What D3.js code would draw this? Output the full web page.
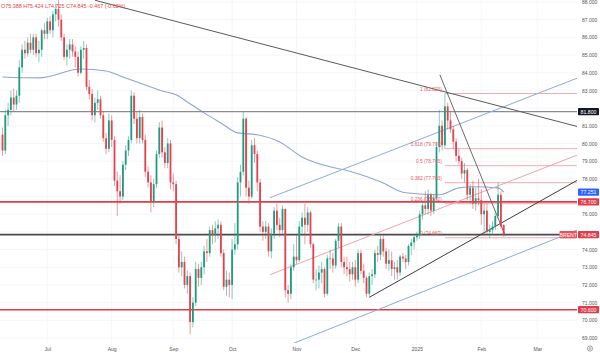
<!DOCTYPE html>
<html><head><meta charset="utf-8">
<script src="https://cdn.jsdelivr.net/npm/d3@7"></script>
<style>html,body{margin:0;padding:0;background:#fff;overflow:hidden}svg{display:block}text{font-family:"Liberation Sans",Arial,sans-serif}</style>
</head><body><svg id="c" width="600" height="353"></svg>
<script>
// ---- data ----
const monthLabels = ["Jul","Aug","Sep","Oct","Nov","Dec","2025","Feb","Mar"];
const monthIndex  = [16,39,61,82,105,126,148,171,191];
const priceTicks  = [69,70,71,72,73,74,75,76,77,78,79,80,81,82,83,84,85,86,87,88];

const openP = [80.5,79.6,81.6,81.9,82.6,82.2,82.7,84.3,85.3,85.1,85.7,85.3,86.0,85.1,85.3,86.4,86.2,86.9,86.4,87.3,
87.6,87.0,86.0,84.9,85.3,85.6,85.2,84.9,84.0,85.3,85.4,83.2,82.8,81.6,82.3,82.5,81.6,80.3,79.7,81.3,
80.2,77.9,77.3,77.0,78.8,79.6,80.2,82.7,81.4,80.3,81.5,80.2,78.4,77.8,76.7,77.7,79.4,80.9,79.5,78.9,
80.0,77.8,77.7,74.6,73.0,73.3,72.0,72.5,69.9,71.0,72.9,72.4,73.0,73.9,73.8,75.1,74.8,75.2,75.4,73.8,
71.9,72.3,72.0,74.0,74.3,77.8,78.4,81.4,77.5,77.0,79.9,79.4,77.8,75.3,75.0,75.3,73.9,74.9,76.2,75.4,
75.1,76.3,71.7,71.5,73.0,73.6,73.4,75.3,75.8,75.4,76.1,74.3,72.3,72.3,72.7,72.9,71.5,73.5,73.5,73.1,
74.5,75.3,73.3,73.0,72.9,72.6,73.0,72.3,73.8,72.8,72.4,71.5,72.5,72.6,73.8,73.7,74.6,73.9,73.2,73.4,
72.9,73.0,72.7,73.6,73.5,73.3,74.2,74.4,74.7,74.8,76.0,76.5,76.3,77.1,76.2,76.9,79.8,81.0,79.9,82.1,
81.3,80.8,80.1,79.3,79.0,78.3,78.5,77.1,77.5,76.6,76.9,76.8,76.0,76.2,75.0,75.1,75.3,75.9,77.1,75.388];
const highP = [80.9,81.9,82.3,83.0,83.1,83.0,84.7,85.6,85.8,86.0,86.2,86.2,86.2,85.8,86.5,86.8,87.1,87.2,87.5,87.9,
88.1,87.3,86.2,85.6,85.9,85.9,85.5,85.2,85.5,85.8,85.6,83.6,83.1,82.6,83.0,82.7,81.8,80.6,81.7,81.6,
80.4,78.4,78.2,79.0,79.9,80.4,83.0,82.9,81.8,81.9,81.7,80.5,78.7,78.2,78.0,79.6,81.2,81.3,79.8,80.3,
80.2,78.3,77.9,74.9,73.9,73.6,72.8,72.7,71.3,73.3,73.2,73.3,74.2,74.6,75.3,75.4,75.6,75.7,75.6,74.0,
72.8,72.7,74.6,75.5,78.1,78.8,81.8,81.5,77.9,80.2,80.3,79.6,78.0,75.6,75.6,75.5,75.2,76.4,76.6,75.8,
76.5,76.3,72.0,73.2,74.3,74.8,75.6,76.1,76.6,76.4,76.2,74.4,72.9,73.1,73.3,73.0,73.7,74.0,73.8,74.6,
75.5,75.5,73.6,73.6,73.3,73.3,73.4,74.0,74.0,73.2,72.5,72.7,72.9,74.0,74.2,74.8,74.8,74.1,74.0,73.9,
73.3,73.4,73.7,73.8,73.7,74.3,74.6,74.9,75.0,76.2,76.7,77.3,77.4,77.2,77.1,80.1,81.9,81.3,82.823,82.3,
81.8,81.0,80.3,79.7,79.2,78.9,78.6,77.7,77.9,77.5,78.0,77.4,76.6,76.6,75.4,75.6,76.2,77.8,77.3,75.424];
const lowP = [79.3,79.4,81.0,81.6,81.8,81.9,82.3,84.0,84.8,84.9,85.1,85.0,84.9,84.6,84.9,85.9,85.9,86.2,86.0,86.9,
86.6,85.8,84.7,84.4,84.8,84.9,84.3,83.8,83.9,84.8,83.0,82.5,81.3,81.2,81.9,81.4,80.1,79.4,79.5,79.8,
77.6,75.9,76.6,76.8,78.5,79.3,80.0,81.1,80.0,80.0,80.0,78.1,77.5,76.1,76.4,77.5,79.2,79.2,78.6,78.6,
77.4,77.3,74.3,72.7,72.5,71.8,71.5,69.2,69.6,70.8,71.9,72.0,72.6,73.3,73.6,74.3,74.4,74.6,73.6,71.7,
71.4,71.3,71.2,73.7,74.0,77.0,78.2,77.0,76.6,76.9,78.9,77.3,75.0,74.5,74.6,73.6,73.5,74.6,75.1,74.7,
74.9,71.3,71.0,71.2,72.8,73.2,73.3,74.9,74.3,75.0,74.1,72.1,71.7,71.8,72.1,71.3,71.4,72.9,72.7,72.9,
74.1,73.0,72.6,72.5,72.2,72.3,71.9,72.1,72.6,72.1,71.3,71.3,72.0,72.4,73.3,73.4,73.6,72.9,72.8,72.5,
72.3,72.3,72.5,73.3,72.9,73.1,73.7,74.0,74.5,74.6,75.7,76.0,76.0,75.9,76.0,76.8,79.5,79.6,79.7,80.8,
80.6,79.7,79.0,78.8,78.0,77.8,76.8,76.6,76.3,76.2,76.5,75.4,74.8,74.9,74.667,74.9,75.1,75.7,75.2,74.725];
const closeP = [79.6,81.6,81.9,82.6,82.2,82.7,84.3,85.3,85.1,85.7,85.3,86.0,85.1,85.3,86.4,86.2,86.9,86.4,87.3,87.6,
87.0,86.0,84.9,85.3,85.6,85.2,84.9,84.0,85.3,85.4,83.2,82.8,81.6,82.3,82.5,81.6,80.3,79.7,81.3,80.2,
77.9,77.3,77.0,78.8,79.6,80.2,82.7,81.4,80.3,81.5,80.2,78.4,77.8,76.7,77.7,79.4,80.9,79.5,78.9,80.0,
77.8,77.7,74.6,73.0,73.3,72.0,72.5,69.9,71.0,72.9,72.4,73.0,73.9,73.8,75.1,74.8,75.2,75.4,73.8,71.9,
72.3,72.0,74.0,74.3,77.8,78.4,81.4,77.5,77.0,79.9,79.4,77.8,75.3,75.0,75.3,73.9,74.9,76.2,75.4,75.1,
76.3,71.7,71.5,73.0,73.6,73.4,75.3,75.8,75.4,76.1,74.3,72.3,72.3,72.7,72.9,71.5,73.5,73.5,73.1,74.5,
75.3,73.3,73.0,72.9,72.6,73.0,72.3,73.8,72.8,72.4,71.5,72.5,72.6,73.8,73.7,74.6,73.9,73.2,73.4,72.9,
73.0,72.7,73.6,73.5,73.3,74.2,74.4,74.7,74.8,76.0,76.5,76.3,77.1,76.2,76.9,79.8,81.0,79.9,82.1,81.3,
80.8,80.1,79.3,79.0,78.3,78.5,77.1,77.5,76.6,76.9,76.8,76.0,76.2,75.0,75.1,75.3,75.9,77.1,75.312,74.845];

// moving average (read at sample candles)
const maIndex = [0,13,28,37,42,49,57,62,66,72,78,84,91,99,107,117,122,135,144,156,163,168,177,179];
const maValue = [83.76,83.71,84.21,84.10,83.82,83.42,82.97,82.75,82.35,81.73,81.16,80.60,80.49,80.09,79.24,78.68,78.51,77.83,77.21,77.10,77.49,77.55,77.49,77.251];

// horizontal levels
const levelPrices = [81.8, 76.7, 74.845, 70.6];
const levelColors = ["#8c8c8c", "#e23b48", "#4a4a4a", "#e23b48"];

// fibonacci
const fibRatios = [1, 0.618, 0.5, 0.382, 0.236, 0];
const fibHighIdx = 158, fibHigh = 82.823, fibLow = 74.667;

// trendlines: [startIdx, startPrice, endIdx, endPrice]
const lineDownLong = [33, 88.1, 205.5, 80.95];
const lineSteep    = [156.2, 83.88, 179.5, 74.8];
const lineAscBlack = [131, 71.3, 205.5, 77.94];
const lineBlueLow  = [102.7, 68.62, 205.5, 75.12];
const lineBlueHigh = [95.5, 76.93, 205.5, 83.71];
const linePink     = [95.5, 72.58, 205.5, 79.36];

// ---- drawing ----
const plotR = 577, plotB = 343;
const x = d3.scaleLinear().domain([0,179]).range([2.5, 2.5 + 179*2.8]);
const y = d3.scaleLinear().domain([69,88]).range([338,2]);
const svg = d3.select('#c');

svg.append('defs').append('clipPath').attr('id','clip')
  .append('rect').attr('x',0).attr('y',0).attr('width',plotR).attr('height',plotB);

// grid
const grid = svg.append('g').attr('clip-path','url(#clip)');
grid.selectAll('.hg').data(priceTicks).join('line')
  .attr('x1',0).attr('x2',plotR).attr('y1',d=>y(d)).attr('y2',d=>y(d))
  .attr('stroke','#f3f4f7').attr('stroke-width',0.8);
grid.selectAll('.vg').data(monthIndex).join('line')
  .attr('x1',d=>x(d)).attr('x2',d=>x(d)).attr('y1',0).attr('y2',plotB)
  .attr('stroke','#f3f4f7').attr('stroke-width',0.8);

const g = svg.append('g').attr('clip-path','url(#clip)');

// MA
const maData = maIndex.map((d,i)=>[d, maValue[i]]);
g.append('path').datum(maData)
  .attr('d', d3.line().x(d=>x(d[0])).y(d=>y(d[1])).curve(d3.curveMonotoneX))
  .attr('fill','none').attr('stroke','#8ea5d6').attr('stroke-width',1.1);

// horizontal levels
g.selectAll('.lvl').data(levelPrices).join('line')
  .attr('x1',0).attr('x2',plotR).attr('y1',d=>y(d)).attr('y2',d=>y(d))
  .attr('stroke',(d,i)=>levelColors[i]).attr('stroke-width',(d,i)=> i===0?1.3:1.6);

// fib
const fibG = g.append('g');
fibRatios.forEach(r=>{
  const v = fibLow + r*(fibHigh-fibLow);
  fibG.append('line').attr('x1',x(fibHighIdx)).attr('x2',plotR)
    .attr('y1',y(v)).attr('y2',y(v)).attr('stroke','#f2a3aa').attr('stroke-width',0.9);
});
const fibT = svg.append('g');
fibRatios.forEach(r=>{
  const v = fibLow + r*(fibHigh-fibLow);
  fibT.append('text').attr('x',x(fibHighIdx)-3).attr('y',y(v)-2.5)
    .attr('text-anchor','end').attr('font-size',4.8).attr('fill','#e0606a')
    .text(`${r} (${v.toFixed(3)})`);
});

// trendlines
function tl(a, color, w){
  g.append('line').attr('x1',x(a[0])).attr('y1',y(a[1])).attr('x2',x(a[2])).attr('y2',y(a[3]))
   .attr('stroke',color).attr('stroke-width',w);
}
tl(lineBlueLow,'#8eaadb',1);
tl(lineBlueHigh,'#8eaadb',1);
tl(linePink,'#f0a4ab',1);
tl(lineDownLong,'#5a5a5a',1);
tl(lineSteep,'#5a5a5a',0.9);
tl(lineAscBlack,'#3c3c3c',1);

// candles
const up='#1f9d80', dn='#e8414e';
const idx = d3.range(openP.length);
g.selectAll('.wick').data(idx).join('line')
  .attr('x1',i=>x(i)).attr('x2',i=>x(i)).attr('y1',i=>y(highP[i])).attr('y2',i=>y(lowP[i]))
  .attr('stroke',i=>closeP[i]>=openP[i]?up:dn).attr('stroke-width',0.7).attr('opacity',0.75);
g.selectAll('.body').data(idx).join('rect')
  .attr('x',i=>x(i)-0.9).attr('width',1.8)
  .attr('y',i=>y(Math.max(openP[i],closeP[i])))
  .attr('height',i=>Math.max(0.7, Math.abs(y(openP[i])-y(closeP[i]))))
  .attr('fill',i=>closeP[i]>=openP[i]?up:dn);

// price boxes (values shown on the axis)
const last = closeP[closeP.length-1];
const maLast = maValue[maValue.length-1];
const boxValues = [levelPrices[0], maLast, levelPrices[1], last, levelPrices[3]];

// right axis: tick labels hidden where a price box covers them
const ax = svg.append('g').attr('transform','translate(580,0)')
  .call(d3.axisRight(y).tickValues(priceTicks.filter(t => boxValues.every(b => Math.abs(y(t)-y(b)) > 6.5)))
    .tickSize(0).tickPadding(2).tickFormat(d3.format('.3f')));
ax.select('.domain').remove();
ax.selectAll('text').attr('font-size',5).attr('fill','#555').attr('font-family','Liberation Sans, Arial, sans-serif');

// bottom axis
const bx = svg.append('g').attr('transform','translate(0,345)')
  .call(d3.axisBottom(x).tickValues(monthIndex).tickSize(0).tickPadding(2).tickFormat((d,i)=>monthLabels[i]));
bx.select('.domain').remove();
bx.selectAll('text').attr('font-size',5).attr('fill','#555').attr('font-family','Liberation Sans, Arial, sans-serif');

function box(v, txt, bg, x0, w){
  svg.append('rect').attr('x',x0).attr('y',y(v)-3.6).attr('width',w).attr('height',7.2).attr('fill',bg).attr('rx',0.8);
  svg.append('text').attr('x',x0+w/2).attr('y',y(v)+1.9).attr('text-anchor','middle')
    .attr('font-size',5.2).attr('fill','#fff').text(txt);
}
box(levelPrices[0], levelPrices[0].toFixed(3), '#131722', 578, 21);
box(maLast, maLast.toFixed(3), '#2962ff', 578, 21);
box(levelPrices[1], levelPrices[1].toFixed(3), '#e23b48', 578, 21);
box(last, 'BRENT', '#e8505c', 559.5, 17.5);
box(last, last.toFixed(3), '#e23b48', 578, 21);
box(levelPrices[3], levelPrices[3].toFixed(3), '#e23b48', 578, 21);

// header
const n = openP.length-1;
const chg = closeP[n]-closeP[n-1];
svg.append('text').attr('x',1).attr('y',8).attr('font-size',5.4).attr('fill','#e8414e')
  .text(`O${openP[n].toFixed(3)} H${highP[n].toFixed(3)} L${lowP[n].toFixed(3)} C${closeP[n].toFixed(3)} ${chg.toFixed(3)} (${(chg/closeP[n-1]*100).toFixed(2)}%)`);

// settings icon
svg.append('circle').attr('cx',590).attr('cy',348.5).attr('r',2.6).attr('fill','none').attr('stroke','#777').attr('stroke-width',0.7);
svg.append('circle').attr('cx',590).attr('cy',348.5).attr('r',0.9).attr('fill','none').attr('stroke','#777').attr('stroke-width',0.6);
</script></body></html>
